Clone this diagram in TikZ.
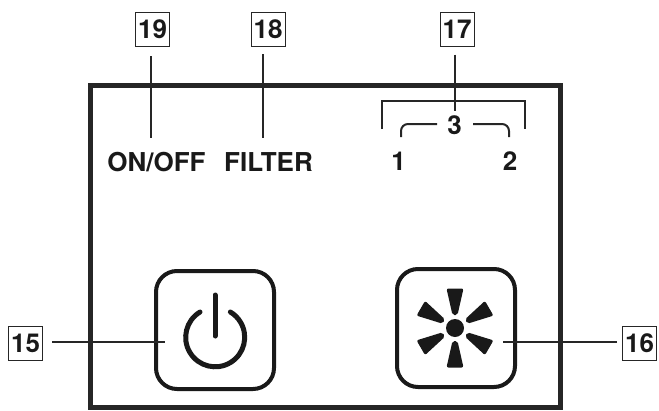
\documentclass[tikz,border=0pt]{standalone}
\usepackage{fontspec}
\setmainfont{TeX Gyre Heros}
\usepackage{tikz}
\usetikzlibrary{positioning}

\tikzset{
  callout/.style={rectangle, draw=black!85, line width=1pt, minimum width=34pt, minimum height=34pt, inner sep=0pt, text=black!90, font=\fontsize{26}{26}\selectfont\bfseries},
  paneltext/.style={inner sep=0pt, text=black!90, font=\fontsize{26}{26}\selectfont\bfseries},
  leader/.style={draw=black!85, line width=2pt},
  brace/.style={draw=black!85, line width=2pt},
  button/.style={rectangle, rounded corners=21pt, draw=black!90, line width=4pt, minimum width=118pt, minimum height=118pt, inner sep=0pt}
}

\begin{document}
\begin{tikzpicture}[x=1pt,y=-1pt]
    \useasboundingbox (0,0) rectangle (659,410);

    \draw[line width=5pt, draw=black!85] (90,85) rectangle (560.5,407.5);

    \node[callout] (n19) at (152.5,29.5) {19};
    \node[callout] (n18) at (268,29.5) {18};
    \node[callout] (n17) at (457,29) {17};
    \node[callout] (n16) at (639.5,343.5) {16};
    \node[callout] (n15) at (25.5,343) {15};

    \node[paneltext] (onoff) at (156.5,162) {ON/OFF};
    \node[paneltext] (filter) at (268.5,162) {FILTER};
    \node[paneltext] (three) at (454.5,125) {3};
    \node[paneltext] (one) at (398.5,161) {1};
    \node[paneltext] (two) at (510,161) {2};

    \node[button] (power) at (215,330) {};
    \node[button] (fan) at (456,328) {};

    \coordinate (c19) at (151,138);
    \coordinate (c18) at (263,138);
    \coordinate (c17) at (455,111);
    \coordinate (c16) at (503,342);
    \coordinate (c15) at (165,342);

    \draw[leader, shorten <=9pt] (n19.south -| c19) -- (c19);
    \draw[leader, shorten <=7pt] (n18.south -| c18) -- (c18);
    \draw[leader, shorten <=8pt] (n17.south -| c17) -- (c17);
    \draw[leader, shorten <=5pt] (n16.west |- c16) -- (c16);
    \draw[leader, shorten <=9pt] (n15.east |- c15) -- (c15);

    \draw[brace] (382,129) -- (382,101) -- (525,101) -- (525,129);
    \draw[brace] (401,137) -- (401,131) arc (180:270:7) -- (437,124);
    \draw[brace] (473,124) -- (502,124) arc (270:360:7) -- (509,137);

    \draw[line width=5pt, draw=black!90, line cap=round] (215,295) -- (215,336);
    \draw[line width=5pt, draw=black!90, line cap=round] (200,312) arc (239:-59:29.5);

    \fill[black!90] (455,328) circle (9);
    \foreach \ang in {0,60,...,300}
      \fill[black!90, rotate around={\ang:(455,328)}, rounded corners=2pt] (452.5,315) -- (446.5,288.5) -- (463.5,288.5) -- (457.5,315) -- cycle;
  \end{tikzpicture}
\end{document}
